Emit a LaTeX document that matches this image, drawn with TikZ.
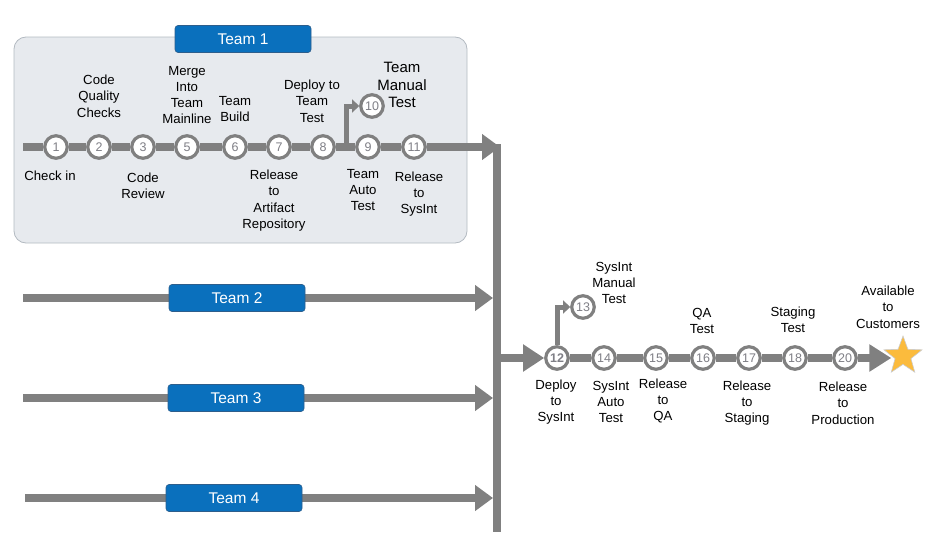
\documentclass[tikz,border=0pt]{standalone}
\usepackage{fontspec}
\setmainfont{Liberation Sans}
\usepackage{tikz}
\usetikzlibrary{shapes,shapes.geometric,arrows.meta,positioning,calc}
\definecolor{flowgray}{HTML}{808080}
\definecolor{numgray}{HTML}{7F7F86}
\definecolor{panelfill}{HTML}{E7EAEE}
\definecolor{paneledge}{HTML}{B3BAC1}
\definecolor{teamblue}{HTML}{0A70BD}
\definecolor{teamedge}{HTML}{2D5E8C}
\definecolor{starfill}{HTML}{FBBB3D}
\tikzstyle{panel} = [rectangle, rounded corners=12pt, minimum width=453pt, minimum height=206pt, draw=paneledge, line width=0.8pt, fill=panelfill]
\tikzstyle{teambox} = [rectangle, rounded corners=3pt, minimum width=136pt, minimum height=27pt, text centered, draw=teamedge, line width=0.6pt, fill=teamblue, text=white, font=\fontsize{15.5}{18}\selectfont]
\tikzstyle{stage} = [circle, minimum size=22.5pt, inner sep=0pt, draw=flowgray, line width=3.2pt, fill=white, text=numgray, font=\fontsize{12.5}{14}\selectfont]
\tikzstyle{note} = [align=center, inner sep=0pt, font=\fontsize{13.2}{16.3}\selectfont]
\tikzstyle{pipe} = [line width=8pt, draw=flowgray]
\tikzstyle{arrow} = [pipe, -{Triangle[length=18pt,width=25pt]}]
\tikzstyle{branch} = [line width=5pt, draw=flowgray, -{Triangle[length=7pt,width=13pt]}]
\pgfdeclarelayer{background}
\pgfsetlayers{background,main}

\begin{document}
\begin{tikzpicture}[x=1pt,y=-1pt]
				\useasboundingbox (0,0) rectangle (941,554);
				% team 1 stages
				\node (c1) [stage] at (56,147) {1};
				\node (c2) [stage] at (99,147) {2};
				\node (c3) [stage] at (143,147) {3};
				\node (c5) [stage] at (187,147) {5};
				\node (c6) [stage] at (235,147) {6};
				\node (c7) [stage] at (279,147) {7};
				\node (c8) [stage] at (323,147) {8};
				\node (c9) [stage] at (368,147) {9};
				\node (c11) [stage] at (414,147) {11};
				\node (c10) [stage] at (372,106) {10};
				\node (team1) [teambox] at (243,39) {Team 1};
				\coordinate (t1in) at (23,147);
				\coordinate (t1out) at (500,147);
				\coordinate (fork1) at (346,147);

				\node (lblQuality) [note] at (99,96) {Code\\Quality\\Checks};
				\node (lblMerge) [note] at (187,95) {Merge\\Into\\Team\\Mainline};
				\node (lblBuild) [note] at (235,109) {Team\\Build};
				\node (lblDeploy) [note] at (312,101) {Deploy to\\Team\\Test};
				\node (lblManual) [note, font=\fontsize{15}{17.5}\selectfont] at (402,85) {Team\\Manual\\Test};
				\node (lblCheckin) [note] at (50,176) {Check in};
				\node (lblReview) [note] at (143,186) {Code\\Review};
				\node (lblArtifact) [note] at (274,200.5) {Release\\to\\Artifact\\Repository};
				\node (lblAuto) [note] at (363,190) {Team\\Auto\\Test};
				\node (lblRelSys) [note] at (419,194) {Release\\to\\SysInt};

				% other teams
				\node (team2) [teambox] at (237,298) {Team 2};
				\node (team3) [teambox] at (236,398) {Team 3};
				\node (team4) [teambox] at (234,498) {Team 4};
				\coordinate (t2in) at (23,298);
				\coordinate (t2out) at (493,298);
				\coordinate (t3in) at (23,398);
				\coordinate (t3out) at (493,398);
				\coordinate (t4in) at (25,498);
				\coordinate (t4out) at (493,498);
				\coordinate (mtop) at (497,144);
				\coordinate (mbot) at (497,532);
				\coordinate (mout) at (497,358);

				% integration stages
				\node (c12) [stage, font=\fontsize{12.5}{14}\bfseries] at (557,358) {12};
				\node (c14) [stage] at (604,358) {14};
				\node (c15) [stage] at (656,358) {15};
				\node (c16) [stage] at (703,358) {16};
				\node (c17) [stage] at (749,358) {17};
				\node (c18) [stage] at (795,358) {18};
				\node (c20) [stage] at (845,358) {20};
				\node (c13) [stage] at (583,307) {13};
				\node (goal) [star, star points=5, star point ratio=2.4, minimum size=40pt, inner sep=0pt, fill=starfill, draw=black!20, line width=0.6pt] at (903,356) {};

				\node (lblSysManual) [note] at (614,283) {SysInt\\Manual\\Test};
				\node (lblQA) [note] at (702,321) {QA\\Test};
				\node (lblStaging) [note] at (793,320) {Staging\\Test};
				\node (lblAvail) [note] at (888,307) {Available\\to\\Customers};
				\node (lblDepSys) [note] at (556,402) {Deploy\\to\\SysInt};
				\node (lblSysAuto) [note] at (611,402) {SysInt\\Auto\\Test};
				\node (lblRelQA) [note] at (663,401) {Release\\to\\QA};
				\node (lblRelStag) [note] at (747,403) {Release\\to\\Staging};
				\node (lblRelProd) [note] at (843,403) {Release\\to\\Production};

				\begin{pgfonlayer}{background}
					\node (area1) [panel] at (240.5,140) {};
					\draw [pipe] (t1in) -- (c1) -- (c2) -- (c3) -- (c5) -- (c6) -- (c7) -- (c8) -- (c9) -- (c11);
					\draw [arrow] (c11) -- (t1out);
					\draw [branch] (fork1) |- (c10);
					\draw [arrow] (t2in) -- (team2) -- (t2out);
					\draw [arrow] (t3in) -- (team3) -- (t3out);
					\draw [arrow] (t4in) -- (team4) -- (t4out);
					\draw [pipe] (mtop) -- (mbot);
					\draw [arrow, -{Triangle[length=21pt,width=26pt]}] (mout) -- (c12);
					\draw [pipe] (c12) -- (c14) -- (c15) -- (c16) -- (c17) -- (c18) -- (c20);
					\draw [arrow, -{Triangle[length=22pt,width=26pt]}] (c20) -- (c20 -| goal.west);
					\draw [branch] (c12) |- (c13);
				\end{pgfonlayer}
			\end{tikzpicture}
\end{document}
